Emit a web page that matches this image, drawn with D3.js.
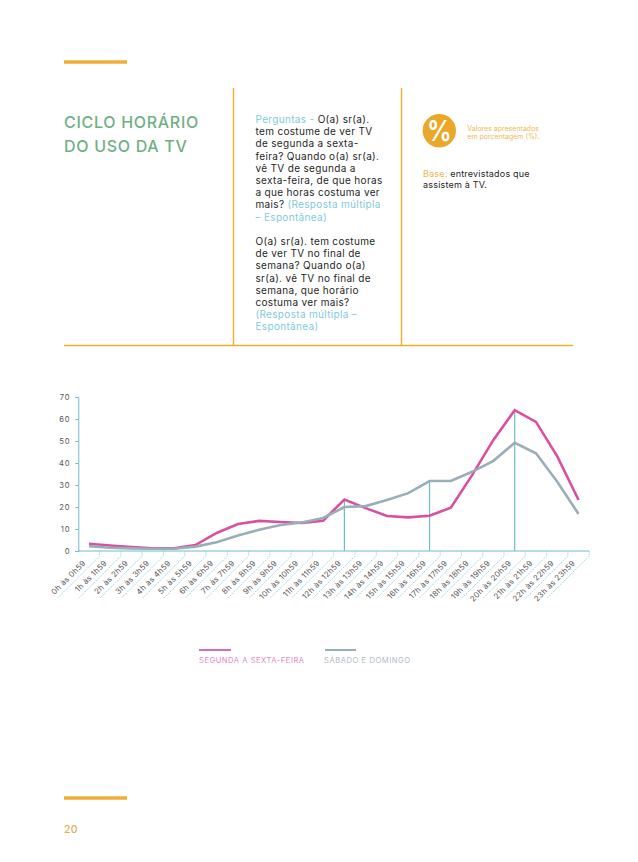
<!DOCTYPE html>
<html><head><meta charset="utf-8">
<script src="https://cdnjs.cloudflare.com/ajax/libs/d3/7.8.5/d3.min.js"></script>
<style>html,body{margin:0;background:#fff}svg{display:block}text{font-family:Inter,"Open Sans",sans-serif}</style>
</head><body><svg id="c" width="638" height="862"></svg>
<script>
const hours = ["0h às 0h59","1h às 1h59","2h às 2h59","3h às 3h59","4h às 4h59","5h às 5h59","6h às 6h59","7h às 7h59","8h às 8h59","9h às 9h59","10h às 10h59","11h às 11h59","12h às 12h59","13h às 13h59","14h às 14h59","15h às 15h59","16h às 16h59","17h às 17h59","18h às 18h59","19h às 19h59","20h às 20h59","21h às 21h59","22h às 22h59","23h às 23h59"];
const weekday = [3.3,2.5,1.8,1.2,1.2,2.7,8.2,12.3,13.7,13.2,12.7,13.8,23.4,19.5,15.9,15.3,16.0,19.7,34.5,50.5,64,58.7,43,23.2];
const weekend = [2.2,1.5,1.2,1,1,2,4,7,9.7,11.8,13,15,20,20.4,23.2,26.3,31.8,31.8,36,41,49.2,44.4,31.5,16.8];
const yTicks = [0,10,20,30,40,50,60,70];
const markers = ["12h às 12h59","16h às 16h59","20h às 20h59"];
const svg = d3.select("#c");
const x = d3.scaleBand().domain(hours).range([78.3,589.2]);
const y = d3.scaleLinear().domain([0,70]).range([551,397]);
const teal="#6fbcc9", gold="#eeb02a", pink="#d9509f", grey="#9aaeb7", ink="#1f1f1f", sky="#7fcbdc";

// decoration
[[64,127,62,3.5],[64,127,798,3.5]].forEach(d=>svg.append("rect").attr("x",d[0]).attr("y",d[2]-d[3]/2).attr("width",d[1]-d[0]).attr("height",d[3]).attr("fill","#f0ae38"));
svg.append("line").attr("x1",64).attr("x2",573).attr("y1",345.5).attr("y2",345.5).attr("stroke",gold).attr("stroke-width",1.4);
[233.5,401.5].forEach(v=>svg.append("line").attr("x1",v).attr("x2",v).attr("y1",88).attr("y2",345.5).attr("stroke",gold).attr("stroke-width",1.4));

// title
const T=(t,xx,yy,fs,fill,w,ls)=>svg.append("text").attr("x",xx).attr("y",yy).attr("font-size",fs).attr("fill",fill).attr("font-weight",w||400).attr("letter-spacing",ls||0).text(t);
T("CICLO HORÁRIO",64,128,16,"#6fb084",500,0.7);
T("DO USO DA TV",64,152,16,"#6fb084",500,0.7);

// question text
const q=[[["Perguntas - ",sky],["O(a) sr(a).",ink]],[["tem costume de ver TV",ink]],[["de segunda a sexta-",ink]],[["feira? Quando o(a) sr(a).",ink]],[["vê TV de segunda a",ink]],[["sexta-feira, de que horas",ink]],[["a que horas costuma ver",ink]],[["mais? ",ink],["(Resposta múltipla",sky]],[["– Espontânea)",sky]],[],[["O(a) sr(a). tem costume",ink]],[["de ver TV no final de",ink]],[["semana? Quando o(a)",ink]],[["sr(a). vê TV no final de",ink]],[["semana, que horário",ink]],[["costuma ver mais?",ink]],[["(Resposta múltipla –",sky]],[["Espontânea)",sky]]];
q.forEach((l,i)=>{const t=svg.append("text").attr("x",255.5).attr("y",123+i*12.2).attr("font-size",10).attr("letter-spacing",0.33);l.forEach(s=>t.append("tspan").attr("fill",s[1]).text(s[0]));});

// percent badge
svg.append("circle").attr("cx",439.3).attr("cy",130.7).attr("r",16.7).attr("fill","#e9a82a");
svg.append("text").attr("transform","translate(439.3,141) scale(0.85,1)").attr("text-anchor","middle").attr("font-size",29).attr("font-weight",600).attr("fill","#fff").text("%");
T("Valores apresentados",467.3,130.5,7,"#efb84f",400,0);
T("em porcentagem (%).",467.3,138.5,7,"#efb84f",400,0);
const b=svg.append("text").attr("x",423).attr("y",177).attr("font-size",9).attr("letter-spacing",0.2);
b.append("tspan").attr("fill","#efb84f").text("Base: ");b.append("tspan").attr("fill",ink).text("entrevistados que");
T("assistem à TV.",423,187.5,9,ink,400,0.2);

// axes
const g=svg.append("g");
const yAxis=d3.axisLeft(y).tickValues(yTicks).tickSize(3).tickPadding(5);
const ga=g.append("g").attr("transform","translate(78.3,0)").call(yAxis);
ga.select(".domain").attr("stroke",teal);ga.selectAll("line").attr("stroke",teal);
ga.selectAll("text").attr("font-size",7.6).attr("fill","#555").attr("letter-spacing",0.8).style("font-family","Inter");
const edges=hours.map(h=>x(h)+x.bandwidth());
g.append("line").attr("x1",78.3).attr("x2",589.2).attr("y1",551).attr("y2",551).attr("stroke",teal);
g.selectAll(".tk").data(edges).join("path").attr("class","tk").attr("fill","none").attr("stroke","#86cdd9").attr("stroke-width",0.8).attr("stroke-dasharray","1.6 1")
 .attr("d",d=>`M${d},551V556L${d-42},598`);
g.selectAll(".lb").data(hours).join("text").attr("class","lb").attr("font-size",7.8).attr("letter-spacing",0.3).attr("fill","#555").attr("text-anchor","end")
 .attr("transform",d=>`translate(${x(d)+x.bandwidth()-13.5},563.5) rotate(-45)`).text(d=>d);

// marker lines
g.selectAll(".mk").data(markers).join("line").attr("class","mk").attr("stroke",teal).attr("stroke-width",1.2)
 .attr("x1",d=>x(d)+x.bandwidth()/2).attr("x2",d=>x(d)+x.bandwidth()/2).attr("y1",d=>y(Math.max(weekday[hours.indexOf(d)],weekend[hours.indexOf(d)]))).attr("y2",551);

// lines
const line=d3.line().x((d,i)=>x(hours[i])+x.bandwidth()/2).y(d=>y(d));
g.append("path").attr("d",line(weekday)).attr("fill","none").attr("stroke",pink).attr("stroke-width",2.6).attr("stroke-linejoin","miter");
g.append("path").attr("d",line(weekend)).attr("fill","none").attr("stroke",grey).attr("stroke-width",2.6);

// legend
svg.append("line").attr("x1",199).attr("x2",231).attr("y1",650).attr("y2",650).attr("stroke","#d56db3").attr("stroke-width",2);
svg.append("line").attr("x1",325).attr("x2",356).attr("y1",650).attr("y2",650).attr("stroke",grey).attr("stroke-width",2);
T("SEGUNDA A SEXTA-FEIRA",199,663,7.6,"#e487c4",400,0.52);
T("SÁBADO E DOMINGO",324,663,7.6,"#aebcc3",400,0.55);

T("20",64,833,10.5,"#e0ae58",500,0.4);
</script></body></html>
